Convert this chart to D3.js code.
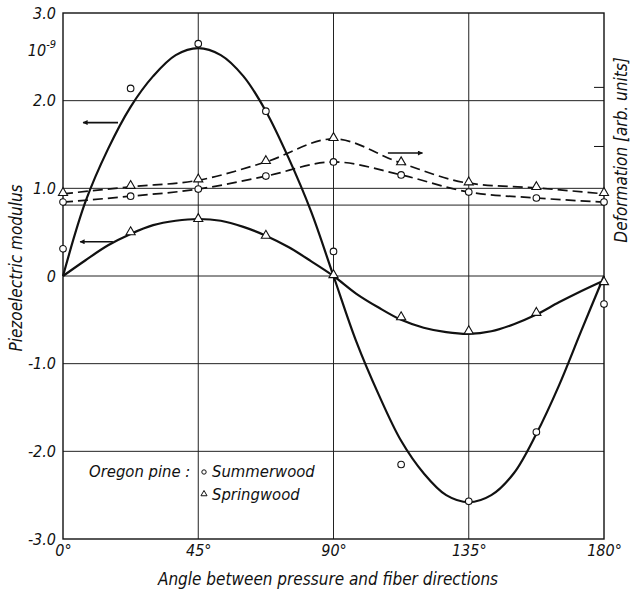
<!DOCTYPE html>
<html>
<head>
<meta charset="utf-8">
<script src="https://cdn.jsdelivr.net/npm/d3@7"></script>
<style>
body { margin: 0; background: #fff; }
text { font-family: "Liberation Sans Narrow", "DejaVu Sans Condensed", "Liberation Sans", sans-serif; font-style: italic; fill: #111; }
</style>
</head>
<body>
<svg id="chart"></svg>
<script>
var angles = [0, 22.5, 45, 67.5, 90, 112.5, 135, 157.5, 180];
var summerPiezo = [0.31, 2.14, 2.65, 1.88, 0.28, -2.15, -2.57, -1.78, -0.32];
var springPiezo = [null, 0.49, 0.64, 0.45, 0.0, -0.48, -0.64, -0.43, -0.08];
var summerDeform = [1.05, 1.15, 1.27, 1.49, 1.73, 1.51, 1.22, 1.12, 1.05];
var springDeform = [1.19, 1.31, 1.42, 1.73, 2.12, 1.71, 1.37, 1.29, 1.19];

// hand-drawn fit curves (read every 7.5 deg)
var curveAngles = [0, 7.5, 15, 22.5, 30, 37.5, 45, 52.5, 60, 67.5, 75, 82.5, 90,
	97.5, 105, 112.5, 120, 127.5, 135, 142.5, 150, 157.5, 165, 172.5, 180];
var summerCurve = [0, 0.85, 1.45, 1.93, 2.28, 2.52, 2.60, 2.52, 2.28, 1.88, 1.35, 0.74, 0,
	-0.74, -1.35, -1.88, -2.25, -2.50, -2.58, -2.50, -2.25, -1.80, -1.25, -0.62, 0];
var springCurve = [0, 0.18, 0.35, 0.48, 0.58, 0.63, 0.65, 0.63, 0.56, 0.46, 0.33, 0.17, 0,
	-0.20, -0.36, -0.50, -0.59, -0.64, -0.66, -0.63, -0.55, -0.44, -0.30, -0.17, -0.05];

var xTicks = [0, 45, 90, 135, 180];
var yTicks = [-3, -2, -1, 0, 1, 2, 3];
var deformTicks = [2, 3];

var margin = { top: 13, right: 30, bottom: 58, left: 63 },
	width = 634 - margin.left - margin.right,
	height = 597 - margin.top - margin.bottom;

var svg = d3.select('#chart')
	.attr('width', 634)
	.attr('height', 597);
var g = svg.append('g')
	.attr('transform', 'translate(' + margin.left + ',' + margin.top + ')');

var x = d3.scaleLinear().domain([0, 180]).range([0, width]);
var y = d3.scaleLinear().domain([-3, 3]).range([height, 0]);
var yR = d3.scaleLinear().domain([-4.65, 4.25]).range([height, 0]);

/* grid */
g.selectAll('.hgrid')
	.data(yTicks.filter(function(d){ return Math.abs(d) < 3; }))
	.enter().append('line')
	.attr('x1', 0).attr('x2', width)
	.attr('y1', function(d){ return y(d); })
	.attr('y2', function(d){ return y(d); })
	.attr('stroke', '#222').attr('stroke-width', 1);

g.append('line')
	.attr('x1', 0).attr('x2', width)
	.attr('y1', yR(1)).attr('y2', yR(1))
	.attr('stroke', '#222').attr('stroke-width', 1);

g.selectAll('.vgrid')
	.data(xTicks.slice(1, 4))
	.enter().append('line')
	.attr('x1', function(d){ return x(d); })
	.attr('x2', function(d){ return x(d); })
	.attr('y1', 0).attr('y2', height)
	.attr('stroke', '#222').attr('stroke-width', 1);

/* frame */
g.append('rect')
	.attr('width', width).attr('height', height)
	.attr('fill', 'none').attr('stroke', '#111').attr('stroke-width', 1.4);

/* axes */
var yAxis = d3.axisLeft(y)
	.tickValues(yTicks)
	.tickSize(0)
	.tickPadding(7)
	.tickFormat(function(d){ return d === 0 ? '0' : d.toFixed(1); });
var ya = g.append('g').call(yAxis);
ya.select('.domain').remove();
ya.selectAll('text').style('font-size', '16px');

var xAxis = d3.axisBottom(x)
	.tickValues(xTicks)
	.tickSize(0)
	.tickPadding(6)
	.tickFormat(function(d){ return d + '\u00b0'; });
var xa = g.append('g').attr('transform', 'translate(0,' + height + ')').call(xAxis);
xa.select('.domain').remove();
xa.selectAll('text').style('font-size', '16px');

var ra = g.append('g').attr('transform', 'translate(' + width + ',0)')
	.call(d3.axisLeft(yR).tickValues(deformTicks).tickSize(10).tickFormat(''));
ra.select('.domain').remove();
ra.selectAll('line').attr('stroke', '#111');

/* unit label */
var unit = g.append('text')
	.attr('x', -7).attr('y', 43)
	.attr('text-anchor', 'end')
	.style('font-size', '16px');
unit.append('tspan').text('10');
unit.append('tspan').attr('dy', -8).style('font-size', '11px').text('-9');

/* curves */
var line = d3.line()
	.x(function(d){ return x(d[0]); })
	.y(function(d){ return y(d[1]); })
	.curve(d3.curveCatmullRom.alpha(0.5));

[summerCurve, springCurve].forEach(function(vals){
	g.append('path')
		.datum(curveAngles.map(function(a, i){ return [a, vals[i]]; }))
		.attr('d', line)
		.attr('fill', 'none')
		.attr('stroke', '#111')
		.attr('stroke-width', 2.2);
});

var dline = d3.line()
	.x(function(d){ return x(d[0]); })
	.y(function(d){ return yR(d[1]); })
	.curve(d3.curveMonotoneX);

[summerDeform, springDeform].forEach(function(vals){
	g.append('path')
		.datum(angles.map(function(a, i){ return [a, vals[i]]; }))
		.attr('d', dline)
		.attr('fill', 'none')
		.attr('stroke', '#111')
		.attr('stroke-width', 1.7)
		.attr('stroke-dasharray', '10,5');
});

/* markers */
var tri = d3.symbol().type(d3.symbolTriangle).size(36);

var addCircles = function(vals, scale){
	g.selectAll(null)
		.data(angles.map(function(a, i){ return [a, vals[i]]; })
			.filter(function(d){ return d[1] !== null; }))
		.enter().append('circle')
		.attr('cx', function(d){ return x(d[0]); })
		.attr('cy', function(d){ return scale(d[1]); })
		.attr('r', 3.3)
		.attr('fill', '#fff').attr('stroke', '#111').attr('stroke-width', 1.1);
};
var addTriangles = function(vals, scale){
	g.selectAll(null)
		.data(angles.map(function(a, i){ return [a, vals[i]]; })
			.filter(function(d){ return d[1] !== null; }))
		.enter().append('path')
		.attr('d', tri)
		.attr('transform', function(d){
			return 'translate(' + x(d[0]) + ',' + (scale(d[1]) - 1) + ')';
		})
		.attr('fill', '#fff').attr('stroke', '#111').attr('stroke-width', 1.1);
};
addCircles(summerPiezo, y);
addTriangles(springPiezo, y);
addCircles(summerDeform, yR);
addTriangles(springDeform, yR);

/* arrows: which axis a curve belongs to */
var defs = svg.append('defs');
defs.append('marker')
	.attr('id', 'head')
	.attr('viewBox', '0 0 10 10')
	.attr('refX', 9).attr('refY', 5)
	.attr('markerWidth', 10).attr('markerHeight', 5)
	.attr('markerUnits', 'userSpaceOnUse')
	.attr('orient', 'auto')
	.append('path').attr('d', 'M0,0L10,5L0,10Z').attr('fill', '#111');

var arrows = [
	{ from: [18.3, 1.75], to: [6.7, 1.75], s: y },
	{ from: [16.6, 0.39], to: [5.7, 0.39], s: y },
	{ from: [108.1, 1.88], to: [119.6, 1.88], s: yR }
];
arrows.forEach(function(a){
	g.append('line')
		.attr('x1', x(a.from[0])).attr('y1', a.s(a.from[1]))
		.attr('x2', x(a.to[0])).attr('y2', a.s(a.to[1]))
		.attr('stroke', '#111').attr('stroke-width', 1.6)
		.attr('marker-end', 'url(#head)');
});

/* legend */
var lg = g.append('g').attr('transform', 'translate(26,464)');
lg.append('text').attr('x', 0).attr('y', 0).style('font-size', '16.5px').text('Oregon pine :');
lg.append('circle').attr('cx', 115).attr('cy', -5).attr('r', 2.2)
	.attr('fill', '#fff').attr('stroke', '#111');
lg.append('text').attr('x', 123).attr('y', 0).style('font-size', '16.5px').text('Summerwood');
lg.append('path').attr('d', d3.symbol().type(d3.symbolTriangle).size(16))
	.attr('transform', 'translate(115,17)')
	.attr('fill', '#fff').attr('stroke', '#111');
lg.append('text').attr('x', 123).attr('y', 23).style('font-size', '16.5px').text('Springwood');

/* axis titles */
svg.append('text')
	.attr('x', 328).attr('y', 585)
	.attr('text-anchor', 'middle')
	.style('font-size', '17px')
	.text('Angle between pressure and fiber directions');

svg.append('text')
	.attr('transform', 'translate(22,268) rotate(-90)')
	.attr('text-anchor', 'middle')
	.style('font-size', '17px')
	.text('Piezoelectric modulus');

svg.append('text')
	.attr('transform', 'translate(627,150) rotate(-90)')
	.attr('text-anchor', 'middle')
	.style('font-size', '17px')
	.text('Deformation [arb. units]');
</script>
</body>
</html>
